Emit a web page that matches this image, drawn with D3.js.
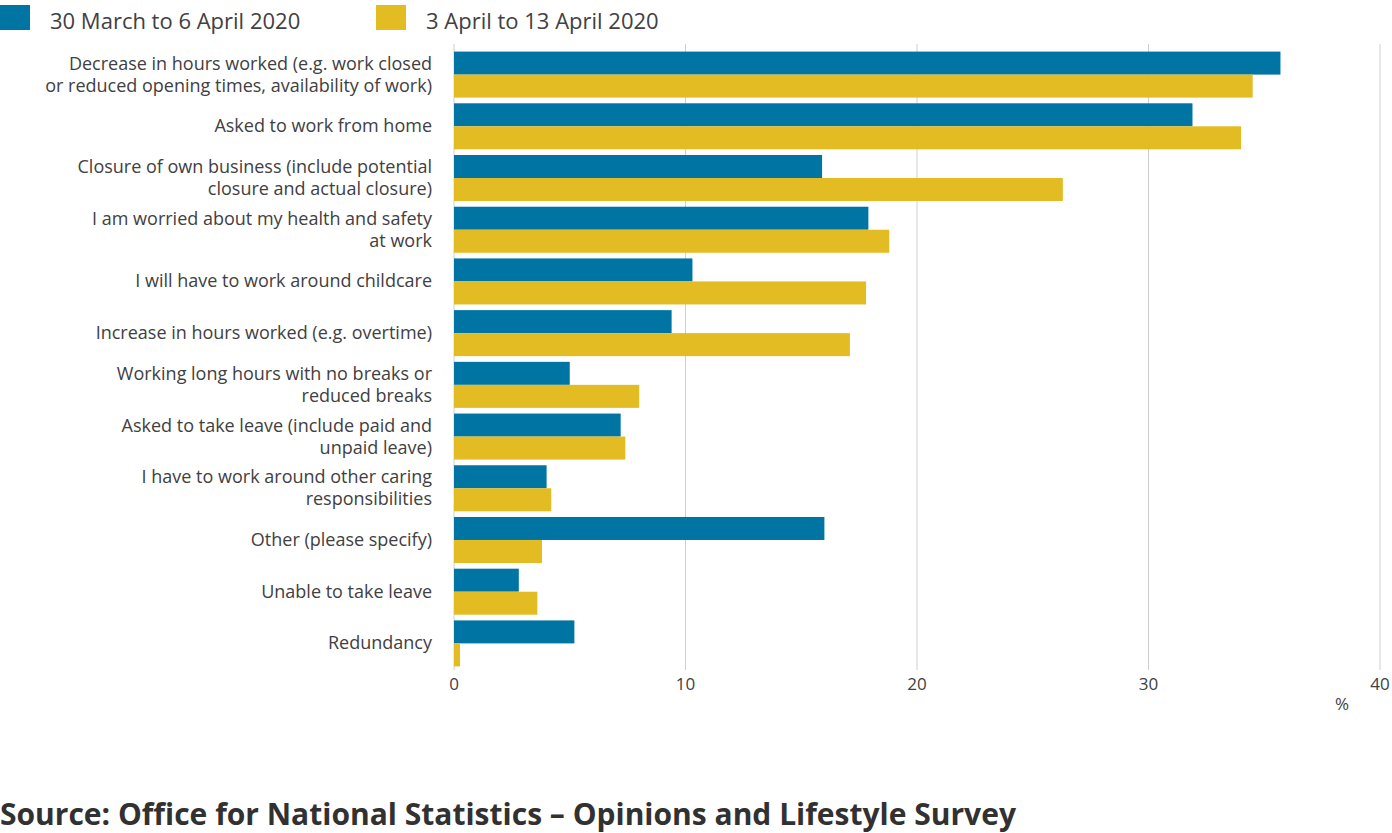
<!DOCTYPE html>
<html><head><meta charset="utf-8">
<script src="https://cdn.jsdelivr.net/npm/d3@7"></script>
<style>body{margin:0;background:#fff;font-family:"Open Sans",sans-serif;}</style>
</head><body><svg id="c" width="1392" height="833"></svg>
<script>
const categories = [
  ["Decrease in hours worked (e.g. work closed", "or reduced opening times, availability of work)"],
  ["Asked to work from home"],
  ["Closure of own business (include potential", "closure and actual closure)"],
  ["I am worried about my health and safety", "at work"],
  ["I will have to work around childcare"],
  ["Increase in hours worked (e.g. overtime)"],
  ["Working long hours with no breaks or", "reduced breaks"],
  ["Asked to take leave (include paid and", "unpaid leave)"],
  ["I have to work around other caring", "responsibilities"],
  ["Other (please specify)"],
  ["Unable to take leave"],
  ["Redundancy"]
];
const seriesNames = ["30 March to 6 April 2020", "3 April to 13 April 2020"];
const marchApril = [35.7, 31.9, 15.9, 17.9, 10.3, 9.4, 5.0, 7.2, 4.0, 16.0, 2.8, 5.2];
const aprilApril = [34.5, 34.0, 26.3, 18.8, 17.8, 17.1, 8.0, 7.4, 4.2, 3.8, 3.6, 0.26];
const xTicks = [0, 10, 20, 30, 40];
const colors = ["#0075a3", "#e2bc22"];
const textCol = "#414042";

const svg = d3.select("#c");
const x = d3.scaleLinear().domain([0, 40]).range([454, 1380]);
const y = d3.scaleBand().domain(d3.range(categories.length)).range([49, 669]).paddingInner(0.11).paddingOuter(0.05);
const sub = d3.scaleBand().domain([0, 1]).range([0, y.bandwidth()]);

svg.append("g").selectAll("line").data(xTicks).join("line")
  .attr("x1", d => x(d)).attr("x2", d => x(d)).attr("y1", 44).attr("y2", 670)
  .attr("stroke", "#cfcfcf").attr("stroke-width", 1);

[marchApril, aprilApril].forEach((vals, s) => {
  svg.append("g").selectAll("rect").data(vals).join("rect")
    .attr("x", x(0)).attr("y", (d, i) => y(i) + sub(s))
    .attr("width", d => x(d) - x(0)).attr("height", sub.bandwidth())
    .attr("fill", colors[s]);
});

const lab = svg.append("g").attr("font-size", 18).attr("fill", textCol).attr("text-anchor", "end");
categories.forEach((lines, i) => {
  const cy = y(i) + y.bandwidth() / 2;
  const t = lab.append("text").attr("x", 432);
  lines.forEach((l, j) => {
    t.append("tspan").attr("x", 432)
      .attr("y", cy - (lines.length - 1) * 11 + j * 22 + 6).text(l);
  });
});

svg.append("g").selectAll("text").data(xTicks).join("text")
  .attr("x", d => x(d)).attr("y", 690).attr("text-anchor", "middle")
  .attr("font-size", 17).attr("fill", textCol).text(d => d);
svg.append("text").attr("x", 1342).attr("y", 710).attr("text-anchor", "middle")
  .attr("font-size", 17).attr("fill", textCol).text("%");

const leg = svg.append("g");
const legX = [0, 376];
seriesNames.forEach((n, i) => {
  leg.append("rect").attr("x", legX[i]).attr("y", 5).attr("width", 30).attr("height", 25).attr("fill", colors[i]);
  leg.append("text").attr("x", legX[i] + 50).attr("y", 29).attr("font-size", 22).attr("fill", textCol).text(n);
});

svg.append("text").attr("x", 0).attr("y", 825).attr("font-size", 30).attr("font-weight", "bold")
  .attr("fill", "#323132").text("Source: Office for National Statistics – Opinions and Lifestyle Survey");
</script></body></html>
